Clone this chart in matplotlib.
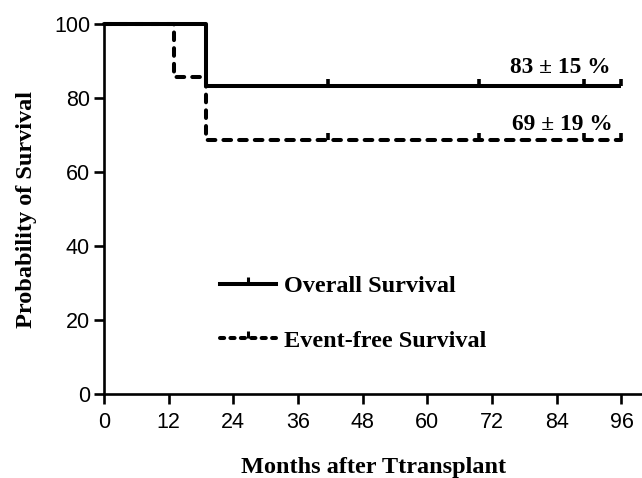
import matplotlib
matplotlib.use("Agg")
import matplotlib.pyplot as plt
from matplotlib.lines import Line2D
from matplotlib.markers import TICKUP

# Data
os_times = [0, 19, 96]
os_surv = [100, 83.3, 83.3]
efs_times = [0, 13, 19, 96]
efs_surv = [100, 85.7, 68.8, 68.8]
os_censor_t = [41.5, 69.5, 89, 96]
efs_censor_t = [41.5, 69.5, 89, 96]
os_label = "Overall Survival"
efs_label = "Event-free Survival"
os_annot = "83 ± 15 %"
efs_annot = "69 ± 19 %"
xticks = [0, 12, 24, 36, 48, 60, 72, 84, 96]
yticks = [0, 20, 40, 60, 80, 100]

plt.rcParams['lines.scale_dashes'] = False

fig = plt.figure(figsize=(6.42, 4.78), dpi=100)
ax = fig.add_axes([104/642, 1-394/478, 539/642, (394-24.3)/478])

lw = 2.9
dash = (0, (5.5, 5.8))

ax.step(os_times, os_surv, where='post', color='black', lw=lw, solid_capstyle='butt',
        clip_on=False, zorder=3)
ax.step(efs_times, efs_surv, where='post', color='black', lw=lw, linestyle=dash,
        dash_capstyle='round', clip_on=False, zorder=3)

def surv_at(times, surv, t):
    v = surv[0]
    for ti, si in zip(times, surv):
        if t >= ti:
            v = si
    return v

ax.plot(os_censor_t, [surv_at(os_times, os_surv, t) for t in os_censor_t], linestyle='none',
        marker=TICKUP, markersize=5, mew=2.6, color='black', clip_on=False, zorder=4)
ax.plot(efs_censor_t, [surv_at(efs_times, efs_surv, t) for t in efs_censor_t], linestyle='none',
        marker=TICKUP, markersize=5, mew=2.6, color='black', clip_on=False, zorder=4)

ax.set_xlim(0, 100)
ax.set_ylim(0, 100)
ax.set_xticks(xticks)
ax.set_yticks(yticks)

for s in ['top', 'right']:
    ax.spines[s].set_visible(False)
for s in ['left', 'bottom']:
    ax.spines[s].set_linewidth(1.9)
ax.tick_params(axis='both', which='major', direction='out', length=7, width=1.9,
               labelsize=15.5, pad=3)
ax.tick_params(axis='x', pad=6)
for lab in ax.get_xticklabels() + ax.get_yticklabels():
    lab.set_fontfamily('Liberation Sans')

serif_bold = dict(family='Liberation Serif', weight='bold')
ax.set_xlabel("Months after Ttransplant", fontsize=17.5, labelpad=17, **serif_bold)
ax.set_ylabel("Probability of Survival", fontsize=17.5, labelpad=12, **serif_bold)

ax.text(84.6, 88.3, os_annot, ha='center', va='center', fontsize=16.8, **serif_bold)
ax.text(85.0, 72.9, efs_annot, ha='center', va='center', fontsize=16.8, **serif_bold)

h1 = Line2D([0], [0], color='black', lw=lw, marker=TICKUP, markersize=5, mew=2.2)
h2 = Line2D([0], [0], color='black', lw=lw, linestyle=(0, (3, 4.5)), dash_capstyle='round',
            marker=TICKUP, markersize=5, mew=2.2)
leg = ax.legend([h1, h2], [os_label, efs_label], loc='upper left',
                bbox_to_anchor=(220/642, 1-275/478), bbox_transform=fig.transFigure,
                frameon=False, borderpad=0, borderaxespad=0, handlelength=2.3,
                handletextpad=0.35, labelspacing=1.35, numpoints=1,
                prop=dict(family='Liberation Serif', weight='bold', size=17.5))

fig.savefig("out.png", dpi=100)
